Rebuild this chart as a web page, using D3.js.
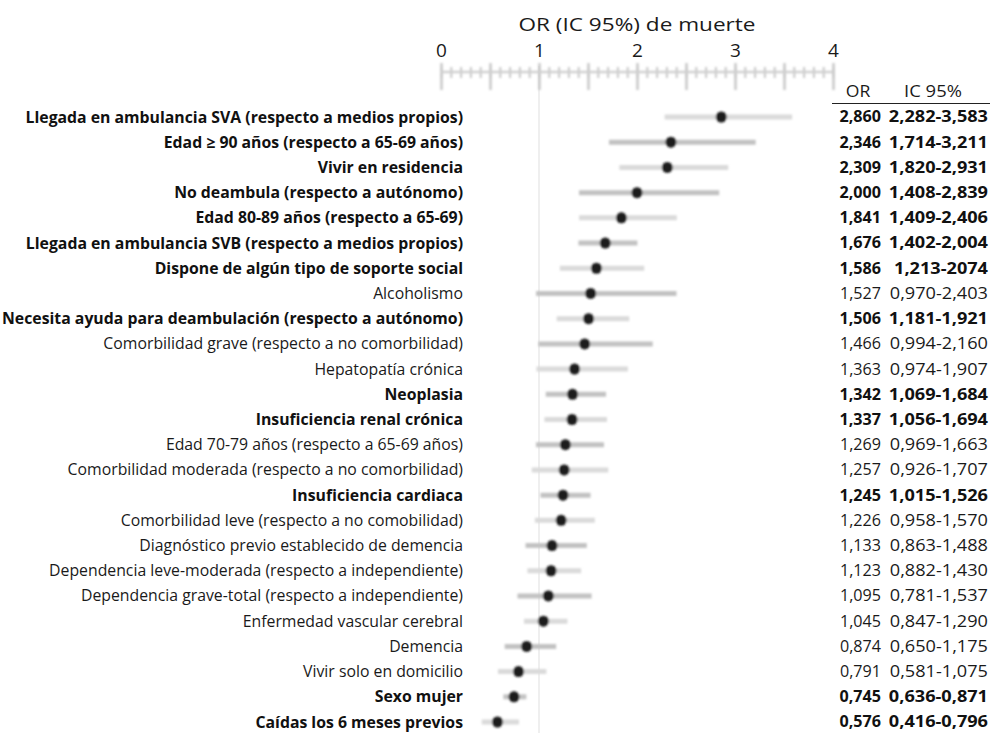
<!DOCTYPE html>
<html lang="es">
<head>
<meta charset="utf-8">
<title>OR (IC 95%) de muerte</title>
<script src="https://d3js.org/d3.v7.min.js"></script>
<style>
  body { margin: 0; background: #fff; }
  svg text { font-family: "Open Sans", sans-serif; fill: #1a1a1a; }
  .lbl { font-size: 15.8px; }
  .lbl.sig { font-size: 15.8px; }
  .sig { font-weight: bold; fill: #111; }
  .tbl { font-size: 15.5px; }
  .hdr { font-size: 16px; }
  .title { font-size: 18.5px; }
  .tick-lbl text { font-size: 19px; fill: #1a1a1a; }
  .axis path, .axis line { stroke: #c8c8c8; }
</style>
</head>
<body>
<div id="vis"></div>
<script>
// variables del modelo
const labels = [
  "Llegada en ambulancia SVA (respecto a medios propios)",
  "Edad \u2265 90 años (respecto a 65-69 años)",
  "Vivir en residencia",
  "No deambula (respecto a autónomo)",
  "Edad 80-89 años (respecto a 65-69)",
  "Llegada en ambulancia SVB (respecto a medios propios)",
  "Dispone de algún tipo de soporte social",
  "Alcoholismo",
  "Necesita ayuda para deambulación (respecto a autónomo)",
  "Comorbilidad grave (respecto a no comorbilidad)",
  "Hepatopatía crónica",
  "Neoplasia",
  "Insuficiencia renal crónica",
  "Edad 70-79 años (respecto a 65-69 años)",
  "Comorbilidad moderada (respecto a no comorbilidad)",
  "Insuficiencia cardiaca",
  "Comorbilidad leve (respecto a no comobilidad)",
  "Diagnóstico previo establecido de demencia",
  "Dependencia leve-moderada (respecto a independiente)",
  "Dependencia grave-total (respecto a independiente)",
  "Enfermedad vascular cerebral",
  "Demencia",
  "Vivir solo en domicilio",
  "Sexo mujer",
  "Caídas los 6 meses previos"
];
const orValues = [2.860, 2.346, 2.309, 2.000, 1.841, 1.676, 1.586, 1.527, 1.506, 1.466, 1.363, 1.342, 1.337,
                  1.269, 1.257, 1.245, 1.226, 1.133, 1.123, 1.095, 1.045, 0.874, 0.791, 0.745, 0.576];
const ciLow  = [2.282, 1.714, 1.820, 1.408, 1.409, 1.402, 1.213, 0.970, 1.181, 0.994, 0.974, 1.069, 1.056,
                0.969, 0.926, 1.015, 0.958, 0.863, 0.882, 0.781, 0.847, 0.650, 0.581, 0.636, 0.416];
const ciHigh = [3.583, 3.211, 2.931, 2.839, 2.406, 2.004, 2.074, 2.403, 1.921, 2.160, 1.907, 1.684, 1.694,
                1.663, 1.707, 1.526, 1.570, 1.488, 1.430, 1.537, 1.290, 1.175, 1.075, 0.871, 0.796];
// texto de la columna IC tal como aparece en la tabla
const ciText = [
  "2,282-3,583", "1,714-3,211", "1,820-2,931", "1,408-2,839", "1,409-2,406", "1,402-2,004", "1,213-2074",
  "0,970-2,403", "1,181-1,921", "0,994-2,160", "0,974-1,907", "1,069-1,684", "1,056-1,694", "0,969-1,663",
  "0,926-1,707", "1,015-1,526", "0,958-1,570", "0,863-1,488", "0,882-1,430", "0,781-1,537", "0,847-1,290",
  "0,650-1,175", "0,581-1,075", "0,636-0,871", "0,416-0,796"
];
const axisTicks = [0, 1, 2, 3, 4];

const width = 990, height = 733;
const es = d3.formatLocale({decimal: ",", thousands: ".", grouping: [3], currency: ["", "€"]});
const fmt = es.format(".3f");

const data = labels.map((l, i) => ({
  label: l, or: orValues[i], lo: ciLow[i], hi: ciHigh[i], ci: ciText[i], i: i,
  sig: ciLow[i] > 1 || ciHigh[i] < 1
}));

const x = d3.scaleLinear().domain([0, 4]).range([441, 833]);
const y = d3.scalePoint().domain(labels).range([117, 722]);

// el original tiene el texto algo ensanchado en horizontal
function stretch(sel, k) {
  sel.each(function() {
    const w = this.getComputedTextLength();
    d3.select(this).attr("textLength", w * k).attr("lengthAdjust", "spacingAndGlyphs");
  });
}

const svg = d3.select("#vis").append("svg")
  .attr("width", width).attr("height", height);

const defs = svg.append("defs");
defs.append("filter").attr("id", "soft")
  .attr("x", "-20%").attr("y", "-50%").attr("width", "140%").attr("height", "200%")
  .append("feGaussianBlur").attr("stdDeviation", 1.1);

// titulo
svg.append("text").attr("class", "title")
  .attr("x", 637).attr("y", 31).attr("text-anchor", "middle")
  .text("OR (IC 95%) de muerte")
  .call(stretch, 1.22);

// linea de referencia OR = 1
svg.append("line")
  .attr("x1", x(1)).attr("x2", x(1)).attr("y1", 66).attr("y2", height)
  .attr("stroke", "#efefef").attr("stroke-width", 2);

// eje: etiquetas
svg.append("g").attr("class", "tick-lbl")
  .attr("transform", "translate(0,57)")
  .call(d3.axisTop(x).tickValues(axisTicks).tickSize(0).tickPadding(0).tickFormat(d3.format("d")))
  .call(g => g.select(".domain").remove())
  .call(g => g.selectAll("text").attr("dy", "0"));

// eje: marcas menores y mayores
const axisG = svg.append("g").attr("filter", "url(#soft)");
axisG.append("g").attr("class", "axis")
  .attr("transform", "translate(0,67)")
  .call(d3.axisBottom(x).tickValues(d3.range(0, 40.5, 1).map(d => d / 10)).tickSize(11).tickFormat(""))
  .call(g => g.select(".domain").remove())
  .call(g => g.selectAll("line").attr("stroke-width", 2));
axisG.append("g").attr("class", "axis")
  .attr("transform", "translate(0,63)")
  .call(d3.axisBottom(x).tickValues(d3.range(0, 8.5, 1).map(d => d / 2)).tickSize(27).tickFormat(""))
  .call(g => g.select(".domain").remove())
  .call(g => g.selectAll("line").attr("stroke-width", 2.5));
axisG.append("line")
  .attr("x1", x(0)).attr("x2", x(4)).attr("y1", 72).attr("y2", 72)
  .attr("stroke", "#d0d0d0").attr("stroke-width", 2.5);

// intervalos y puntos
const marks = svg.append("g").attr("filter", "url(#soft)");
marks.selectAll(".ci").data(data).join("line")
  .attr("class", "ci")
  .attr("x1", d => x(d.lo)).attr("x2", d => x(d.hi))
  .attr("y1", d => y(d.label)).attr("y2", d => y(d.label))
  .attr("stroke", d => d.i % 2 ? "#c2c2c2" : "#dadada")
  .attr("stroke-width", 5);
marks.selectAll(".pt").data(data).join("circle")
  .attr("class", "pt")
  .attr("cx", d => x(d.or)).attr("cy", d => y(d.label))
  .attr("r", 5.5).attr("fill", "#1c1c1c");

// etiquetas de filas
svg.selectAll(".lbl").data(data).join("text")
  .attr("class", d => "lbl" + (d.sig ? " sig" : ""))
  .attr("x", 463).attr("y", d => y(d.label)).attr("dy", "0.35em")
  .attr("text-anchor", "end")
  .text(d => d.label);

// tabla
svg.append("text").attr("class", "hdr")
  .attr("x", 858).attr("y", 97).attr("text-anchor", "middle").text("OR")
  .call(stretch, 1.1);
svg.append("text").attr("class", "hdr")
  .attr("x", 933).attr("y", 97).attr("text-anchor", "middle").text("IC 95%")
  .call(stretch, 1.15);
svg.append("line")
  .attr("x1", 832).attr("x2", 990).attr("y1", 103.5).attr("y2", 103.5)
  .attr("stroke", "#222").attr("stroke-width", 1.2);

svg.selectAll(".orv").data(data).join("text")
  .attr("class", d => "tbl orv" + (d.sig ? " sig" : ""))
  .attr("x", 881).attr("y", d => y(d.label)).attr("dy", "0.35em")
  .attr("text-anchor", "end")
  .text(d => fmt(d.or))
  .call(stretch, 1.04);
svg.selectAll(".civ").data(data).join("text")
  .attr("class", d => "tbl civ" + (d.sig ? " sig" : ""))
  .attr("x", 988).attr("y", d => y(d.label)).attr("dy", "0.35em")
  .attr("text-anchor", "end")
  .text(d => d.ci)
  .call(stretch, 1.17);
</script>
</body>
</html>
